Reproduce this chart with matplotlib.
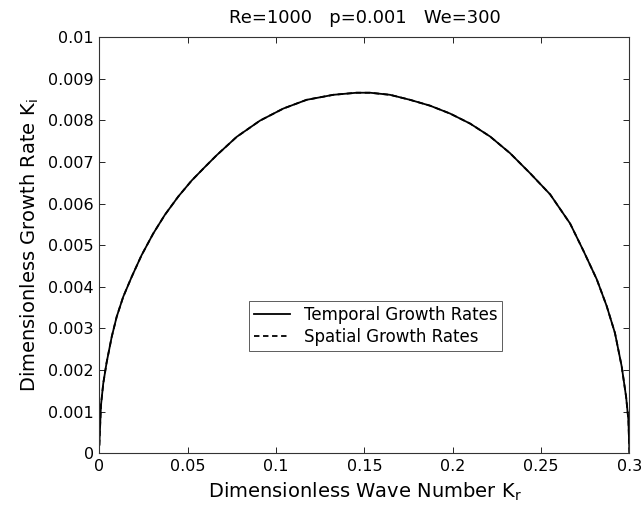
import matplotlib
matplotlib.use("Agg")
import matplotlib.pyplot as plt
from matplotlib.ticker import FixedLocator, FixedFormatter

plt.rcParams['font.family'] = ['DejaVu Sans']
plt.rcParams['mathtext.fontset'] = 'dejavusans'

# Dimensionless wave number K_r and growth rate K_i
kr_temporal = [0.0, 0.0003, 0.0009, 0.0022, 0.0041, 0.0070, 0.0098, 0.0135, 0.0183,
               0.0239, 0.0305, 0.0371, 0.0447, 0.0522, 0.0598, 0.0664, 0.0777, 0.0909,
               0.1041, 0.1173, 0.1324, 0.1456, 0.1532, 0.1645, 0.1758, 0.1871, 0.1985,
               0.2098, 0.2211, 0.2324, 0.2437, 0.2551, 0.2664, 0.2739, 0.2815, 0.2871,
               0.2918, 0.2956, 0.2981, 0.2994, 0.3000]
ki_temporal = [0.00020, 0.00052, 0.00115, 0.00168, 0.00218, 0.00280, 0.00328, 0.00376, 0.00424,
               0.00476, 0.00528, 0.00573, 0.00617, 0.00655, 0.00688, 0.00716, 0.00760, 0.00799,
               0.00828, 0.00849, 0.00861, 0.00866, 0.00866, 0.00861, 0.00849, 0.00835, 0.00816,
               0.00792, 0.00761, 0.00721, 0.00673, 0.00622, 0.00552, 0.00487, 0.00418, 0.00354,
               0.00289, 0.00209, 0.00136, 0.00080, 0.0]
kr_spatial = list(kr_temporal)
ki_spatial = list(ki_temporal)

x_ticks = [0, 0.05, 0.1, 0.15, 0.2, 0.25, 0.3]
x_labels = ['0', '0.05', '0.1', '0.15', '0.2', '0.25', '0.3']
y_ticks = [0, 0.001, 0.002, 0.003, 0.004, 0.005, 0.006, 0.007, 0.008, 0.009, 0.01]
y_labels = ['0', '0.001', '0.002', '0.003', '0.004', '0.005', '0.006', '0.007',
            '0.008', '0.009', '0.01']

fig = plt.figure(figsize=(6.41, 5.20), dpi=100)
ax = fig.add_axes([0.155, 0.128, 0.827, 0.801])

ax.plot(kr_temporal, ki_temporal, color='black', linestyle='-', linewidth=1.3,
        label='Temporal Growth Rates')
ax.plot(kr_spatial, ki_spatial, color='black', linestyle=(0, (3, 2)), linewidth=1.3,
        label='Spatial Growth Rates')

ax.set_xlim(0, 0.3)
ax.set_ylim(0, 0.01)
ax.xaxis.set_major_locator(FixedLocator(x_ticks))
ax.xaxis.set_major_formatter(FixedFormatter(x_labels))
ax.yaxis.set_major_locator(FixedLocator(y_ticks))
ax.yaxis.set_major_formatter(FixedFormatter(y_labels))
ax.tick_params(direction='in', top=True, right=True, length=4, width=0.6,
               labelsize=11.5, colors='black', pad=4)
for s in ax.spines.values():
    s.set_linewidth(0.8)
    s.set_color('#333333')

ax.set_title('Re=1000   p=0.001   We=300', fontsize=13, pad=10)
ax.set_xlabel('Dimensionless Wave Number K$_\\mathregular{r}$', fontsize=14, labelpad=5)
ax.set_ylabel('Dimensionless Growth Rate K$_\\mathregular{i}$', fontsize=14, labelpad=5)

leg = ax.legend(loc='center', bbox_to_anchor=(0.521, 0.306), fontsize=12,
                frameon=True, fancybox=False, edgecolor='#333333',
                handlelength=2.2, borderpad=0.3, labelspacing=0.2, handletextpad=0.8)
leg.get_frame().set_linewidth(0.7)

fig.savefig('out.png', dpi=100)
